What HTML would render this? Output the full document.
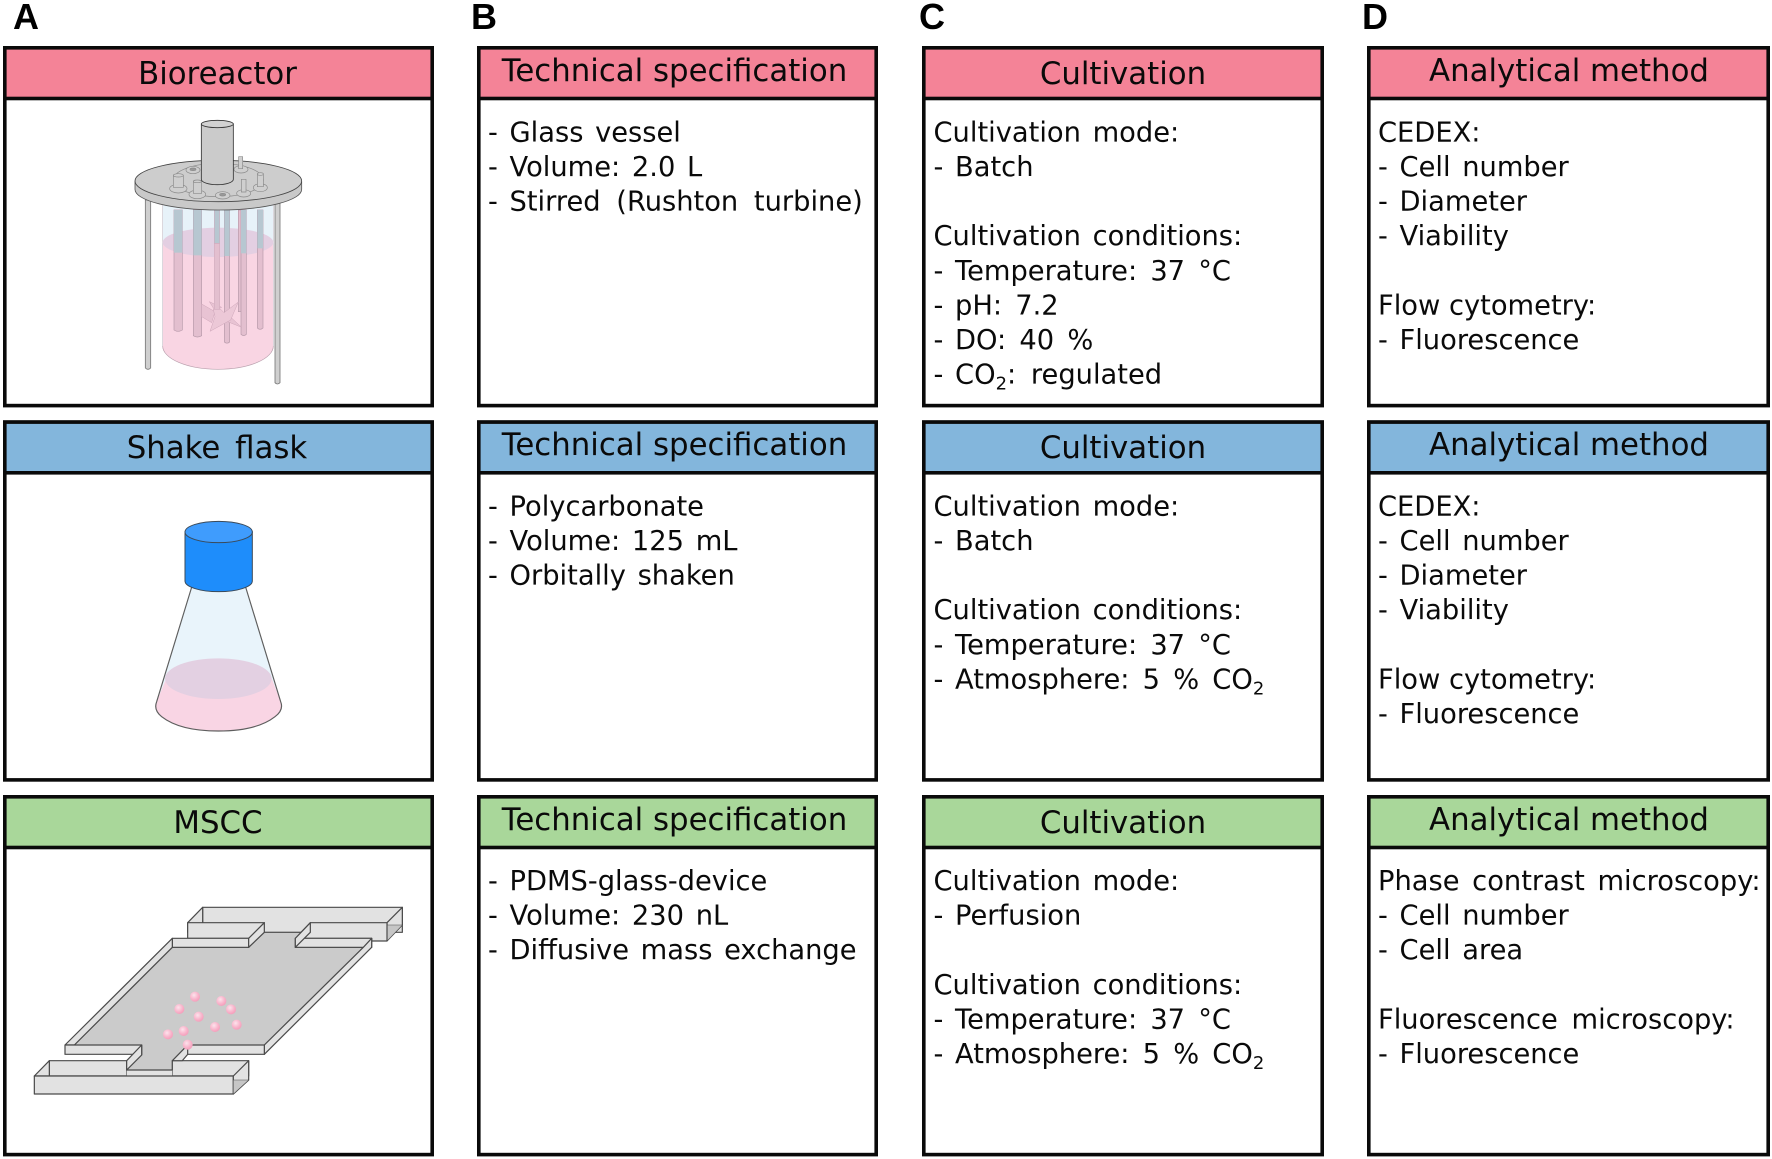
<!DOCTYPE html>
<html>
<head>
<meta charset="utf-8">
<style>
html,body{margin:0;padding:0;background:#fff;}
svg{display:block;}
text{font-family:"DejaVu Sans",sans-serif;fill:#0a0a0a;}
.b{font-size:27.3px;word-spacing:3px;}
.w{word-spacing:4.5px;}
.h{font-size:30.8px;text-anchor:middle;}
.l{font-family:"Liberation Sans",sans-serif;font-weight:bold;font-size:36px;fill:#000;}
.s{font-size:18px;}
.box{fill:#fff;stroke:#0a0a0a;stroke-width:3.6;}
.hd{stroke:#0a0a0a;stroke-width:3.6;}
.r{fill:#f48397}.u{fill:#83b6dc}.g{fill:#a9d79a}
.ill{filter:blur(0.35px);}
</style>
</head>
<body>
<svg width="1772" height="1159" viewBox="0 0 1772 1159" xmlns="http://www.w3.org/2000/svg">
<defs>
<radialGradient id="sp" cx="0.4" cy="0.35" r="0.7"><stop offset="0" stop-color="#fde3ec"/><stop offset="0.6" stop-color="#f8b4cb"/><stop offset="1" stop-color="#f49ab8"/></radialGradient>
</defs>

<!-- panel letters -->
<text class="l" x="13" y="29">A</text>
<text class="l" x="471" y="29">B</text>
<text class="l" x="919" y="29">C</text>
<text class="l" x="1362" y="29">D</text>

<!-- Boxes: row 1 -->
<g>
<rect class="box" x="4.8" y="47.8" width="427.4" height="357.8"/><rect class="r hd" x="4.8" y="47.8" width="427.4" height="50.7"/>
<rect class="box" x="478.8" y="47.8" width="397.4" height="357.8"/><rect class="r hd" x="478.8" y="47.8" width="397.4" height="50.7"/>
<rect class="box" x="923.8" y="47.8" width="398.4" height="357.8"/><rect class="r hd" x="923.8" y="47.8" width="398.4" height="50.7"/>
<rect class="box" x="1368.8" y="47.8" width="399.4" height="357.8"/><rect class="r hd" x="1368.8" y="47.8" width="399.4" height="50.7"/>
</g>
<!-- row 2 -->
<g transform="translate(0,374.3)">
<rect class="box" x="4.8" y="47.8" width="427.4" height="357.8"/><rect class="u hd" x="4.8" y="47.8" width="427.4" height="50.7"/>
<rect class="box" x="478.8" y="47.8" width="397.4" height="357.8"/><rect class="u hd" x="478.8" y="47.8" width="397.4" height="50.7"/>
<rect class="box" x="923.8" y="47.8" width="398.4" height="357.8"/><rect class="u hd" x="923.8" y="47.8" width="398.4" height="50.7"/>
<rect class="box" x="1368.8" y="47.8" width="399.4" height="357.8"/><rect class="u hd" x="1368.8" y="47.8" width="399.4" height="50.7"/>
</g>
<!-- row 3 -->
<g transform="translate(0,749)">
<rect class="box" x="4.8" y="47.8" width="427.4" height="357.8"/><rect class="g hd" x="4.8" y="47.8" width="427.4" height="50.7"/>
<rect class="box" x="478.8" y="47.8" width="397.4" height="357.8"/><rect class="g hd" x="478.8" y="47.8" width="397.4" height="50.7"/>
<rect class="box" x="923.8" y="47.8" width="398.4" height="357.8"/><rect class="g hd" x="923.8" y="47.8" width="398.4" height="50.7"/>
<rect class="box" x="1368.8" y="47.8" width="399.4" height="357.8"/><rect class="g hd" x="1368.8" y="47.8" width="399.4" height="50.7"/>
</g>

<!-- Headers -->
<text class="h" x="217.5" y="84">Bioreactor</text>
<text class="h" x="674.5" y="81">Technical specification</text>
<text class="h" x="1123" y="84">Cultivation</text>
<text class="h" x="1569" y="81">Analytical method</text>
<text class="h" x="217" y="458" style="word-spacing:5px">Shake flask</text>
<text class="h" x="674.5" y="455">Technical specification</text>
<text class="h" x="1123" y="458">Cultivation</text>
<text class="h" x="1569" y="455">Analytical method</text>
<text class="h" x="218" y="833">MSCC</text>
<text class="h" x="674.5" y="830">Technical specification</text>
<text class="h" x="1123" y="833">Cultivation</text>
<text class="h" x="1569" y="830">Analytical method</text>

<!-- Column B -->
<text class="b" x="488" y="141.5">- Glass vessel</text>
<text class="b" x="488" y="176">- Volume: 2.0 L</text>
<text class="b" x="488" y="210.6">- <tspan style="word-spacing:7px">Stirred (Rushton turbine)</tspan></text>
<text class="b" x="488" y="515.5">- Polycarbonate</text>
<text class="b" x="488" y="550">- Volume: 125 mL</text>
<text class="b" x="488" y="584.6">- Orbitally shaken</text>
<text class="b" x="488" y="890">- PDMS-glass-device</text>
<text class="b" x="488" y="924.6">- Volume: 230 nL</text>
<text class="b" x="488" y="959.2">- Diffusive mass exchange</text>

<!-- Column C -->
<text class="b" x="933.5" y="141.5">Cultivation mode:</text>
<text class="b" x="933.5" y="176">- Batch</text>
<text class="b" x="933.5" y="245.2">Cultivation conditions:</text>
<text class="b" x="933.5" y="279.8">- <tspan class="w">Temperature: 37 °C</tspan></text>
<text class="b" x="933.5" y="314.4">- <tspan class="w">pH: 7.2</tspan></text>
<text class="b" x="933.5" y="349">- <tspan class="w">DO: 40 %</tspan></text>
<text class="b" x="933.5" y="383.6">- CO<tspan class="s" dy="6">2</tspan><tspan dy="-6" style="word-spacing:6px">: regulated</tspan></text>

<text class="b" x="933.5" y="515.5">Cultivation mode:</text>
<text class="b" x="933.5" y="550">- Batch</text>
<text class="b" x="933.5" y="619.2">Cultivation conditions:</text>
<text class="b" x="933.5" y="653.8">- <tspan class="w">Temperature: 37 °C</tspan></text>
<text class="b" x="933.5" y="688.4">- <tspan class="w">Atmosphere: 5 % CO</tspan><tspan class="s" dy="6">2</tspan></text>

<text class="b" x="933.5" y="890">Cultivation mode:</text>
<text class="b" x="933.5" y="924.6">- Perfusion</text>
<text class="b" x="933.5" y="993.8">Cultivation conditions:</text>
<text class="b" x="933.5" y="1028.4">- <tspan class="w">Temperature: 37 °C</tspan></text>
<text class="b" x="933.5" y="1063">- <tspan class="w">Atmosphere: 5 % CO</tspan><tspan class="s" dy="6">2</tspan></text>

<!-- Column D -->
<text class="b" x="1378" y="141.5">CEDEX:</text>
<text class="b" x="1378" y="176">- Cell number</text>
<text class="b" x="1378" y="210.6">- Diameter</text>
<text class="b" x="1378" y="245.2">- Viability</text>
<text class="b" x="1378" y="314.4" style="word-spacing:0">Flow cytometry:</text>
<text class="b" x="1378" y="349">- Fluorescence</text>

<text class="b" x="1378" y="515.5">CEDEX:</text>
<text class="b" x="1378" y="550">- Cell number</text>
<text class="b" x="1378" y="584.6">- Diameter</text>
<text class="b" x="1378" y="619.2">- Viability</text>
<text class="b" x="1378" y="688.4" style="word-spacing:0">Flow cytometry:</text>
<text class="b" x="1378" y="723">- Fluorescence</text>

<text class="b" x="1378" y="890" style="word-spacing:4px">Phase contrast microscopy:</text>
<text class="b" x="1378" y="924.6">- Cell number</text>
<text class="b" x="1378" y="959.2">- Cell area</text>
<text class="b" x="1378" y="1028.4" style="word-spacing:5px">Fluorescence microscopy:</text>
<text class="b" x="1378" y="1063">- Fluorescence</text>

<!-- Bioreactor (zoom coords: origin 100,100, factor 1/3) -->
<g class="ill" transform="translate(100,100) scale(0.33333)">
  <!-- glass -->
  <path d="M188 310 H520 V738 A166 70 0 0 1 188 738 Z" fill="#e7f2f9"/>
  <!-- liquid -->
  <path d="M188 427 H520 V738 A166 70 0 0 1 188 738 Z" fill="#f9d5e3"/>
  <path d="M188 738 A166 70 0 0 0 520 738" fill="none" stroke="#b9a0ad" stroke-width="2"/>
  <path d="M188 310 V738 M520 310 V738" stroke="#c9c3cc" stroke-width="2" fill="none"/>
  <ellipse cx="354" cy="427" rx="166" ry="44" fill="#e3cfe2"/>
  <!-- rods -->
  <g stroke="#b79aaa" stroke-width="2">
    <rect x="415" y="330" width="12" height="305" fill="#e3bfcf"/>
    <path d="M222 330 H247 V690 Q234 698 222 690 Z" fill="#e3bfcf"/>
    <path d="M280 330 H305 V707 Q292 715 280 707 Z" fill="#e3bfcf"/>
    <path d="M373 330 H389 V726 Q381 733 373 726 Z" fill="#e3bfcf"/>
    <path d="M423 330 H439 V703 Q431 710 423 703 Z" fill="#e3bfcf"/>
    <path d="M472 330 H489 V684 Q480 692 472 684 Z" fill="#e3bfcf"/>
  </g>
  <g fill="#b7c7d1">
    <rect x="222" y="330" width="25" height="128"/>
    <rect x="280" y="330" width="25" height="136"/>
    <rect x="373" y="330" width="16" height="138"/>
    <rect x="423" y="330" width="16" height="130"/>
    <rect x="472" y="330" width="17" height="115"/>
  </g>
  <!-- impeller -->
  <g stroke="#cda6b9" stroke-width="1.5" fill="#e8c3d3">
    <path d="M305 612 L345 635 L335 668 L305 650 Z"/>
    <path d="M385 645 L425 682 L375 662 Z"/>
    <path d="M328 605 L365 622 L345 632 Z"/>
    <path d="M343 430 H359 V630 H343 Z" fill="#e3bfcf"/>
    <path d="M343 330 H359 V430 H343 Z" fill="#b7c7d1"/>
    <path d="M330 694 L345 650 L340 628 L362 628 L372 638 L415 606 L392 660 Z" fill="#ecc8d7"/>
  </g>
  <!-- legs -->
  <path d="M136 300 H152 V804 Q144 812 136 804 Z" fill="#cfcfcf" stroke="#777" stroke-width="2.5"/>
  <path d="M525 310 H540 V848 Q532 856 525 848 Z" fill="#cfcfcf" stroke="#777" stroke-width="2.5"/>
  <!-- lid -->
  <path d="M105 245 V268 A250 62 0 0 0 605 268 V245 Z" fill="#c9c9c9" stroke="#555" stroke-width="2.5"/>
  <ellipse cx="355" cy="243" rx="250" ry="62" fill="#cdcdcd" stroke="#444" stroke-width="2.5"/>
  <!-- ports -->
  <g fill="#cfcfcf" stroke="#8a8a8a" stroke-width="2">
    <ellipse cx="355" cy="240" rx="135" ry="50" fill="none"/>
    <ellipse cx="279" cy="210" rx="21" ry="11"/><ellipse cx="279" cy="208" rx="9" ry="4" fill="#999"/>
    <ellipse cx="423" cy="208" rx="21" ry="11"/><path d="M416 170 H428 V206 H416 Z"/>
    <ellipse cx="235" cy="266" rx="26" ry="13"/><path d="M220 226 H250 V262 H220 Z"/><ellipse cx="235" cy="226" rx="15" ry="5"/>
    <ellipse cx="292" cy="283" rx="25" ry="13"/><path d="M280 244 H305 V280 H280 Z"/><ellipse cx="292" cy="244" rx="12" ry="4"/>
    <ellipse cx="368" cy="286" rx="22" ry="11"/><ellipse cx="368" cy="284" rx="9" ry="4" fill="#999"/>
    <ellipse cx="431" cy="280" rx="21" ry="11"/><path d="M424 238 H438 V276 H424 Z"/>
    <ellipse cx="481" cy="263" rx="21" ry="12"/><path d="M472 222 H490 V260 H472 Z"/><ellipse cx="481" cy="222" rx="9" ry="4"/>
  </g>
  <!-- motor cylinder -->
  <path d="M304 72 V238 A48 16 0 0 0 400 238 V72 Z" fill="#cbcbcb" stroke="#333" stroke-width="2.5"/>
  <ellipse cx="352" cy="72" rx="48" ry="11" fill="#d2d2d2" stroke="#333" stroke-width="2.5"/>
</g>

<!-- Shake flask (origin 120,500) -->
<g class="ill" transform="translate(120,500) scale(0.33333)">
  <path d="M217 255 L110 605 Q100 630 125 650 Q180 693 295 693 Q410 693 465 650 Q492 630 482 605 L375 255 Z" fill="#e9f4fb"/>
  <path d="M137 540 L110 605 Q100 630 125 650 Q180 693 295 693 Q410 693 465 650 Q492 630 482 605 L453 530 Z" fill="#f9d5e4"/>
  <ellipse cx="295" cy="536" rx="160" ry="61" fill="#e3d0e2"/>
  <path d="M217 255 L110 605 Q100 630 125 650 Q180 693 295 693 Q410 693 465 650 Q492 630 482 605 L375 255" fill="none" stroke="#5e5e5e" stroke-width="3.5"/>
  <path d="M195 96 V243 A101 32 0 0 0 397 243 V96 Z" fill="#1e8dfb" stroke="#3a4a5a" stroke-width="3"/>
  <ellipse cx="296" cy="96" rx="101" ry="32" fill="#3f9cfd" stroke="#3a4a5a" stroke-width="3"/>
</g>

<!-- MSCC (origin 20,890) -->
<g class="ill" transform="translate(20,890) scale(0.33333)" stroke="#4a4a4a" stroke-width="3.6" stroke-linejoin="round">
  <!-- top channel -->
  <path d="M548 52 H1147 V127 H548 Z" fill="#e2e2e2"/>
  <path d="M503 98 L548 52 V127 H503 Z" fill="#e2e2e2"/>
  <path d="M1101 98 L1147 52 V105 L1101 153 Z" fill="#e2e2e2"/>
  <path d="M1101 105 H1147 L1101 153 Z" fill="#c6c6c6" stroke-width="1.5"/>
  <path d="M503 98 H733 L688 145 H503 Z" fill="#e2e2e2"/>
  <path d="M871 98 H1101 V153 H1055 V145 H826 Z" fill="#e2e2e2"/>
  <!-- floor -->
  <path d="M457 172 H686 L733 127 H870 L826 172 H1030 L733 465 H503 L457 512 V540 H320 L365 495 V465 H163 Z" fill="#cbcbcb" stroke-width="3"/>
  <!-- back walls -->
  <path d="M457 145 H686 V172 H457 Z" fill="#e2e2e2"/>
  <path d="M686 145 L733 98 V127 L686 172 Z" fill="#e2e2e2"/>
  <path d="M826 145 H1055 V172 H826 Z" fill="#e2e2e2"/>
  <path d="M826 145 L871 98 V127 L826 172 Z" fill="#e2e2e2"/>
  <!-- side walls -->
  <path d="M135 465 L457 145 V172 L163 465 Z" fill="#e2e2e2"/>
  <path d="M1055 145 V172 L733 493 V465 L1030 172 Z" fill="#e2e2e2"/>
  <!-- bottom channel back -->
  <path d="M88 512 H320 V558 H88 Z" fill="#e2e2e2"/>
  <path d="M457 512 H686 V558 H457 Z" fill="#e2e2e2"/>
  <path d="M320 540 H457 V558 H320 Z" fill="#e2e2e2" stroke="none"/>
  <path d="M320 540 H457" fill="none"/>
  <path d="M43 558 L88 512 V558 Z" fill="#e2e2e2"/>
  <!-- front walls -->
  <path d="M135 465 H365 V493 H135 Z" fill="#e2e2e2"/>
  <path d="M365 465 L320 512 V540 L365 495 Z" fill="#e2e2e2"/>
  <path d="M503 465 H733 V493 H487 Z" fill="#e2e2e2"/>
  <path d="M457 512 L503 465 V493 L487 512 Z" fill="#e2e2e2"/>
  <path d="M43 558 H640 V612 H43 Z" fill="#e2e2e2"/>
  <path d="M640 558 L686 512 V570 L640 612 Z" fill="#e2e2e2"/>
  <path d="M640 570 H686 L640 612 Z" fill="#c6c6c6" stroke-width="1.5"/>
  <!-- cells -->
  <g fill="url(#sp)" stroke="none">
    <circle cx="525" cy="320" r="15"/><circle cx="478" cy="357" r="15"/><circle cx="604" cy="333" r="15"/>
    <circle cx="633" cy="358" r="15"/><circle cx="536" cy="380" r="15"/><circle cx="650" cy="404" r="15"/>
    <circle cx="585" cy="411" r="15"/><circle cx="491" cy="423" r="15"/><circle cx="444" cy="433" r="15"/>
    <circle cx="503" cy="464" r="15"/>
  </g>
</g>
</svg>
</body>
</html>
